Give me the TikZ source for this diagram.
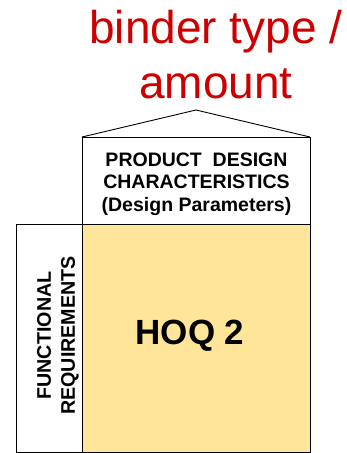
\documentclass[tikz,border=0pt]{standalone}
\usepackage{fontspec}
\setmainfont{Liberation Sans}
\definecolor{hoqred}{RGB}{204,0,0}
\definecolor{hoqyellow}{RGB}{255,229,153}
\begin{document}
\begin{tikzpicture}[x=1pt,y=-1pt,
  box/.style={draw=black, line width=0.9pt, inner sep=0pt, outer sep=0pt, anchor=north west},
  boldlbl/.style={font=\fontsize{19.5}{22.5}\selectfont\bfseries, align=center, inner sep=0pt}]
\useasboundingbox (0,0) rectangle (347,453);
% title
\node[text=hoqred, font=\fontsize{46}{55}\selectfont, align=center, inner sep=0pt, anchor=base]
  (title) at (216,98) {binder type /\\amount};
% roof
\coordinate (roofL) at (82,137);
\coordinate (roofR) at (310,137);
\coordinate (apex) at (196,110);
\draw[line width=0.9pt, line join=miter] (roofL) -- (apex) -- (roofR);
% top box
\node[box, minimum width=228pt, minimum height=87pt] (top) at (82,137) {};
\node[boldlbl, anchor=base] (pdc) at (196.5,211) {PRODUCT\ \ DESIGN\\CHARACTERISTICS\\(Design Parameters)};
% left box
\node[box, minimum width=66pt, minimum height=228pt] (left) at (16,224) {};
\node[boldlbl, rotate=90, font=\fontsize{19.7}{24}\selectfont\bfseries] (fr) at (58,335.5) {FUNCTIONAL\\REQUIREMENTS};
% main box
\node[box, fill=hoqyellow, minimum width=228pt, minimum height=228pt] (main) at (82,224) {};
\node[font=\fontsize{35}{40}\selectfont\bfseries, inner sep=0pt] (hoq) at (190,336) {HOQ 2};
\end{tikzpicture}
\end{document}
